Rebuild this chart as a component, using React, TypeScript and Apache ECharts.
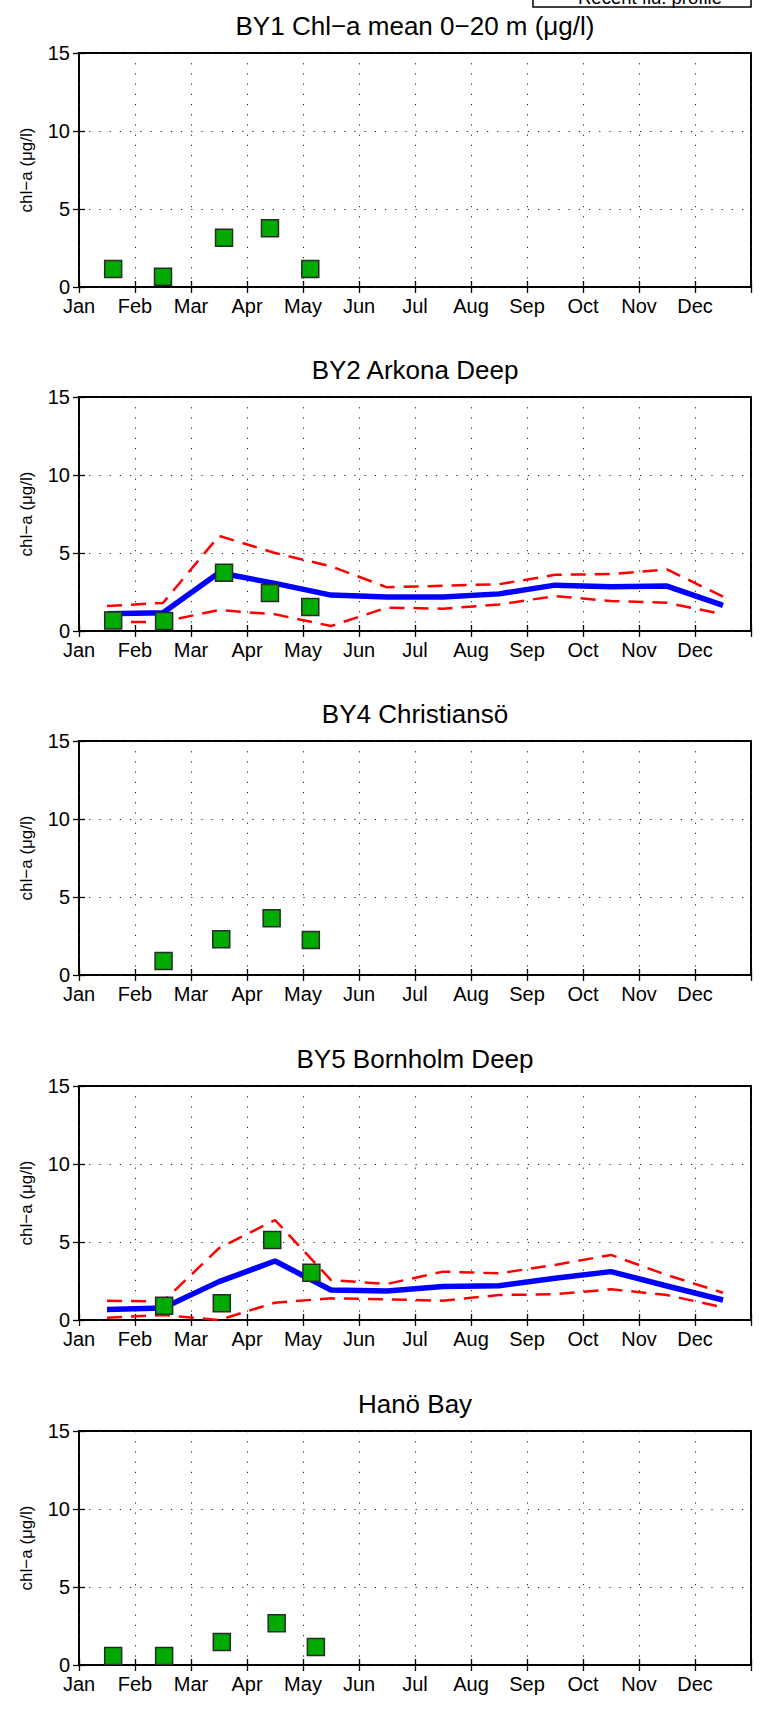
import React, { useEffect, useRef } from "react";
import * as echarts from "echarts";

const MONTHS = ["Jan", "Feb", "Mar", "Apr", "May", "Jun", "Jul", "Aug", "Sep", "Oct", "Nov", "Dec"];
const Y_TICKS = [0, 5, 10, 15];
const TITLES = [
  "BY1 Chl\u2212a mean 0\u221220 m (\u03bcg/l)",
  "BY2 Arkona Deep",
  "BY4 Christians\u00f6",
  "BY5 Bornholm Deep",
  "Han\u00f6 Bay",
];
const Y_NAME = "chl\u2212a (\u03bcg/l)";
const LEGEND_TEXT = "Recent fld. profile";

// observation (green squares), x in months since 1 Jan
const BY1_OBS_X = [0.61, 1.5, 2.59, 3.41, 4.13];
const BY1_OBS_Y = [1.15, 0.66, 3.16, 3.76, 1.15];
const BY2_OBS_X = [0.61, 1.52, 2.59, 3.41, 4.13];
const BY2_OBS_Y = [0.68, 0.64, 3.73, 2.43, 1.54];
const BY4_OBS_X = [1.51, 2.54, 3.44, 4.14];
const BY4_OBS_Y = [0.9, 2.29, 3.64, 2.25];
const BY5_OBS_X = [1.52, 2.55, 3.45, 4.15];
const BY5_OBS_Y = [0.92, 1.07, 5.13, 3.03];
const HANO_OBS_X = [0.61, 1.52, 2.55, 3.53, 4.23];
const HANO_OBS_Y = [0.57, 0.57, 1.47, 2.67, 1.15];

// monthly climatology (mid-month)
const CLIM_X = [0.5, 1.5, 2.5, 3.5, 4.5, 5.5, 6.5, 7.5, 8.5, 9.5, 10.5, 11.5];
const BY2_MEAN = [1.1, 1.17, 3.73, 3.05, 2.3, 2.18, 2.18, 2.38, 2.94, 2.84, 2.88, 1.64];
const BY2_UPPER = [1.6, 1.8, 6.1, 5.0, 4.15, 2.8, 2.9, 3.0, 3.6, 3.65, 3.95, 2.2];
const BY2_LOWER = [0.55, 0.6, 1.34, 1.07, 0.32, 1.5, 1.43, 1.7, 2.24, 1.92, 1.81, 1.07];
const BY5_MEAN = [0.68, 0.77, 2.46, 3.78, 1.92, 1.86, 2.14, 2.2, 2.67, 3.1, 2.18, 1.28];
const BY5_UPPER = [1.24, 1.18, 4.6, 6.41, 2.56, 2.31, 3.1, 2.99, 3.53, 4.17, 2.88, 1.75];
const BY5_LOWER = [0.15, 0.32, 0.0, 1.11, 1.39, 1.32, 1.24, 1.6, 1.65, 1.97, 1.6, 0.81];

const PANELS = [
  { obsX: BY1_OBS_X, obsY: BY1_OBS_Y, mean: null, upper: null, lower: null },
  { obsX: BY2_OBS_X, obsY: BY2_OBS_Y, mean: BY2_MEAN, upper: BY2_UPPER, lower: BY2_LOWER },
  { obsX: BY4_OBS_X, obsY: BY4_OBS_Y, mean: null, upper: null, lower: null },
  { obsX: BY5_OBS_X, obsY: BY5_OBS_Y, mean: BY5_MEAN, upper: BY5_UPPER, lower: BY5_LOWER },
  { obsX: HANO_OBS_X, obsY: HANO_OBS_Y, mean: null, upper: null, lower: null },
];

const FONT = '"Liberation Sans", Arial, Helvetica, sans-serif';
const GRID_TOPS = [53, 397, 741, 1086, 1431];
const GRID_LEFT = 79;
const GRID_WIDTH = 672;
const GRID_HEIGHT = 234;

function buildOption() {
  const grid: any[] = [];
  const xAxis: any[] = [];
  const yAxis: any[] = [];
  const series: any[] = [];
  const title: any[] = [];

  const tick = { show: true, inside: true, length: 6, lineStyle: { color: "#000", width: 1.3 } };
  const dotted = { show: true, lineStyle: { color: "#222", width: 1, type: [1.2, 9] } };

  PANELS.forEach((p, i) => {
    const top = GRID_TOPS[i];
    grid.push({
      left: GRID_LEFT,
      top,
      width: GRID_WIDTH,
      height: GRID_HEIGHT,
      show: true,
      borderColor: "#000",
      borderWidth: 2,
      backgroundColor: "#fff",
    });
    title.push({
      text: TITLES[i],
      left: GRID_LEFT + GRID_WIDTH / 2,
      top: top - 40,
      textAlign: "center",
      padding: 0,
      textStyle: { fontFamily: FONT, fontSize: 26, fontWeight: "normal", color: "#000" },
    });
    // bottom x
    xAxis.push({
      type: "value",
      gridIndex: i,
      min: 0,
      max: 12,
      interval: 1,
      axisLine: { show: false },
      axisTick: tick,
      splitLine: dotted,
      axisLabel: {
        show: true,
        margin: 9,
        fontFamily: FONT,
        fontSize: 20,
        color: "#000",
        formatter: (v: number) => MONTHS[Math.round(v)] || "",
      },
    });
    // top mirror x
    xAxis.push({
      type: "value",
      gridIndex: i,
      position: "top",
      min: 0,
      max: 12,
      interval: 1,
      axisLine: { show: false },
      axisTick: tick,
      splitLine: { show: false },
      axisLabel: { show: false },
    });
    yAxis.push({
      type: "value",
      gridIndex: i,
      min: Y_TICKS[0],
      max: Y_TICKS[Y_TICKS.length - 1],
      interval: 5,
      axisLine: { show: false },
      axisTick: tick,
      splitLine: dotted,
      name: Y_NAME,
      nameLocation: "middle",
      nameRotate: 90,
      nameGap: 44,
      nameTextStyle: { fontFamily: FONT, fontSize: 17, color: "#000" },
      axisLabel: { show: true, margin: 9, fontFamily: FONT, fontSize: 20, color: "#000" },
    });
    yAxis.push({
      type: "value",
      gridIndex: i,
      position: "right",
      min: Y_TICKS[0],
      max: Y_TICKS[Y_TICKS.length - 1],
      interval: 5,
      axisLine: { show: false },
      axisTick: tick,
      splitLine: { show: false },
      axisLabel: { show: false },
    });

    const xi = i * 2;
    const yi = i * 2;
    if (p.upper && p.lower && p.mean) {
      const mk = (vals: number[]) => CLIM_X.map((x, k) => [x, vals[k]]);
      series.push({
        type: "line",
        xAxisIndex: xi,
        yAxisIndex: yi,
        data: mk(p.upper),
        symbol: "none",
        lineStyle: { color: "#ff0000", width: 2.5, type: [15, 9] },
        z: 2,
      });
      series.push({
        type: "line",
        xAxisIndex: xi,
        yAxisIndex: yi,
        data: mk(p.lower),
        symbol: "none",
        lineStyle: { color: "#ff0000", width: 2.5, type: [15, 9] },
        z: 2,
      });
      series.push({
        type: "line",
        xAxisIndex: xi,
        yAxisIndex: yi,
        data: mk(p.mean),
        symbol: "none",
        lineStyle: { color: "#0000ff", width: 5.5 },
        z: 3,
      });
    }
    series.push({
      type: "scatter",
      xAxisIndex: xi,
      yAxisIndex: yi,
      data: p.obsX.map((x, k) => [x, p.obsY[k]]),
      symbol: "rect",
      symbolSize: 17,
      itemStyle: { color: "#00aa00", borderColor: "#2a2a2a", borderWidth: 1.5, opacity: 1 },
      z: 5,
    });
  });

  return {
    animation: false,
    backgroundColor: "#fff",
    title,
    grid,
    xAxis,
    yAxis,
    series,
    graphic: [
      {
        type: "rect",
        shape: { x: 533, y: -40, width: 218, height: 47 },
        style: { fill: "#fff", stroke: "#000", lineWidth: 1.5 },
        z: 10,
      },
      {
        type: "text",
        x: 578,
        y: -2.5,
        style: {
          text: LEGEND_TEXT,
          fontFamily: FONT,
          fontSize: 18.5,
          fill: "#000",
          verticalAlign: "middle",
          align: "left",
        },
        z: 11,
      },
    ],
  };
}

export default function App() {
  const ref = useRef<HTMLDivElement>(null);
  useEffect(() => {
    document.body.style.margin = "0";
    if (!ref.current) return;
    const chart = echarts.init(ref.current, undefined, { renderer: "svg" });
    chart.setOption(buildOption() as any);
    return () => chart.dispose();
  }, []);
  return <div ref={ref} style={{ width: 763, height: 1709, background: "#fff" }} />;
}
